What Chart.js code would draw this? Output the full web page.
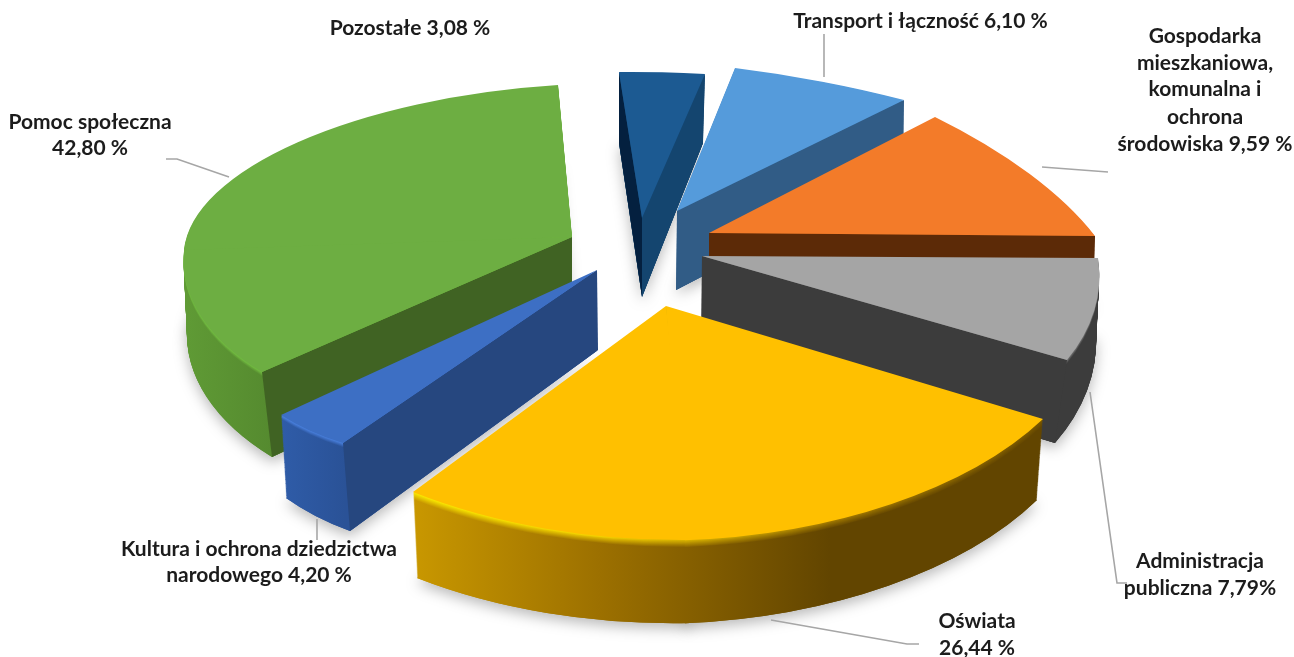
<!DOCTYPE html>
<html lang="pl">
<head>
<meta charset="utf-8">
<title>Struktura wydatków</title>
<style>html,body{margin:0;padding:0;background:#fff}canvas{display:block}</style>
<script src="https://cdn.jsdelivr.net/npm/chart.js@4/dist/chart.umd.min.js"></script>
</head>
<body>
<canvas id="c" width="1294" height="657"></canvas>
<script>
// ---- data ----
const categories = ['Transport i łączność','Gospodarka mieszkaniowa, komunalna i ochrona środowiska','Administracja publiczna','Oświata','Kultura i ochrona dziedzictwa narodowego','Pomoc społeczna','Pozostałe'];
const shares = [6.10, 9.59, 7.79, 26.44, 4.20, 42.80, 3.08];

// ---- styles ----
const topColors  = ['#559bdb','#f37b29','#a5a5a5','#ffc000','#3d6fc4','#6dae42','#1c5a92'];
// paint order, back to front (indices into categories)
const paintOrder = [6,0,1,2,5,4,3];
// camera view of every exploded slice: where its tip and two rim corners land, on top and bottom face.
// wide slices get a bend point to follow the perspective of the rim.
const sliceViews = [
  {top:[[677,211],[735,68],[904,100]],  bottom:[[676,290],[735,140],[903,172]]},
  {top:[[709,233],[935,117],[1095,236]],bottom:[[709,300],[935,190],[1093,305]]},
  {top:[[702,256],[1098,258],[1067,360]],bottom:[[701,336],[1096,335],[1055,443]]},
  {top:[[666,306],[1043,419],[413,492]],bottom:[[666,390],[1037,500],[417,578]], bend:{frac:0.596,top:[690,540],bottom:[690,623]}},
  {top:[[597,270],[343,443],[281,415]], bottom:[[598,350],[350,531],[286,498]]},
  {top:[[572,237],[262,372],[558,85]],  bottom:[[572,317],[272,457],[558,165]], sweep:0.8156, bend:{frac:0.318,top:[184,250],bottom:[187,330]}},
  {top:[[642,218],[619,72],[705,74]],   bottom:[[642,297],[619,143],[703,143]]}
];
// side wall colouring: [screen x, wall colour, bevel colour]
const rimStops = [
  [[677,'#315c86','#315c86'],[904,'#315c86','#315c86']],
  [[709,'#5c2a07','#a85418'],[1095,'#5c2a07','#a85418']],
  [[702,'#3c3c3c','#7c7c7c'],[1100,'#3c3c3c','#7c7c7c']],
  [[416,'#c89700','#fff000'],[600,'#9c7000','#ffdc00'],[830,'#624500','#a87e00'],[1040,'#624500','#7a5800']],
  [[281,'#2f5ca8','#4d85e6'],[345,'#2a5297','#4d85e6']],
  [[187,'#5f9a35','#76c443'],[272,'#558a2f','#76c443']],
  [[619,'#14456f','#14456f'],[705,'#14456f','#14456f']]
];
const bevelPx = [0,2,5,8,5,5,0];
// flat cut faces: which radial edge (1 = start, 2 = end) and colour
const cutFaces = [
  [[2,'#315c86']],
  [[2,'#5c2a07']],
  [[2,'#3c3c3c']],
  [],
  [[1,'#26477f']],
  [[1,'#406323']],
  [[1,'#04203f'],[2,'#14456f']]
];
const labelFont = 'bold 21px Lato';
const labelColor = '#1c1c1c';
const labelBlocks = [
  {lines:['Transport i łączność 6,10 %'], x:920.5, y:[21]},
  {lines:['Gospodarka','mieszkaniowa,','komunalna i','ochrona','środowiska 9,59 %'], x:1205, y:[36,63,89,117,144]},
  {lines:['Administracja','publiczna 7,79%'], x:1200, y:[561,588]},
  {lines:['Oświata','26,44 %'], x:977, y:[621,648]},
  {lines:['Kultura i ochrona dziedzictwa','narodowego 4,20 %'], x:259, y:[549,575]},
  {lines:['Pomoc społeczna','42,80 %'], x:90, y:[122,148]},
  {lines:['Pozostałe 3,08 %'], x:410, y:[28]}
];
const leaderLines = [
  [[824,77],[824,34]],
  [[1042,167],[1108,172]],
  [[1090,392],[1117,583],[1127,583]],
  [[771,620],[907,644],[919,644]],
  [[317,519],[317,540]],
  [[229,177],[177,159],[166,159]]
];

// ---- helpers ----
const hex = h => [1,3,5].map(i => parseInt(h.substr(i,2),16));
const mix = (a,b,f) => { const A=hex(a),B=hex(b); return `rgb(${A.map((v,i)=>Math.round(v+(B[i]-v)*f)).join(',')})`; };
const lerpPt = (p,q,t) => [p[0]+(q[0]-p[0])*t, p[1]+(q[1]-p[1])*t];
const plainOpts = c => ({backgroundColor:c,borderColor:'transparent',borderWidth:0,offset:0,spacing:0,circular:true,borderAlign:'center',borderRadius:0});

function viewMatrix(arc, apex, p1, p2, a1, a2){
  const R = arc.outerRadius;
  const u1=[R*Math.cos(a1),R*Math.sin(a1)], u2=[R*Math.cos(a2),R*Math.sin(a2)];
  const v1=[p1[0]-apex[0],p1[1]-apex[1]], v2=[p2[0]-apex[0],p2[1]-apex[1]];
  const det=u1[0]*u2[1]-u2[0]*u1[1];
  const i=[u2[1]/det,-u2[0]/det,-u1[1]/det,u1[0]/det];
  const a=v1[0]*i[0]+v2[0]*i[2], c=v1[0]*i[1]+v2[0]*i[3];
  const b=v1[1]*i[0]+v2[1]*i[2], d=v1[1]*i[1]+v2[1]*i[3];
  return [a,b,c,d,apex[0]-a*arc.x-c*arc.y,apex[1]-b*arc.x-d*arc.y];
}
// horizontal screen gradient expressed in the slice's local coordinates
function rimFill(stops,f){
  return (ctx,m)=>{
    const x0=stops[0][0],x1=stops[stops.length-1][0];
    const n=m[0]*m[0]+m[2]*m[2], dx=m[0]/n, dy=m[2]/n;
    const g=ctx.createLinearGradient(dx*(x0-m[4]),dy*(x0-m[4]),dx*(x1-m[4]),dy*(x1-m[4]));
    stops.forEach(s=>g.addColorStop((s[0]-x0)/(x1-x0),mix(s[2],s[1],f)));
    return g;
  };
}
// paints a slice at depth t (0 top .. 1 bottom) with the chart's own arc element
function paintSlice(ctx,arc,v,startA,endA,t,fill){
  const keep={o:arc.options,s:arc.startAngle,e:arc.endAngle};
  const pt=k=>lerpPt(v.top[k],v.bottom[k],t);
  const parts=[];
  if(v.bend){
    const midA=startA+(endA-startA)*v.bend.frac, pm=lerpPt(v.bend.top,v.bend.bottom,t);
    parts.push([pt(1),pm,startA,midA,startA,midA+0.012]);
    parts.push([pm,pt(2),midA,endA,midA,endA]);
  }else{
    parts.push([pt(1),pt(2),startA,endA,startA,endA]);
  }
  parts.forEach(([p1,p2,a1,a2,d1,d2])=>{
    const m=viewMatrix(arc,pt(0),p1,p2,a1,a2);
    ctx.save();
    ctx.transform(m[0],m[1],m[2],m[3],m[4],m[5]);
    arc.options=plainOpts(fill(ctx,m));
    arc.startAngle=d1;arc.endAngle=d2;
    arc.draw(ctx);
    ctx.restore();
  });
  arc.options=keep.o;arc.startAngle=keep.s;arc.endAngle=keep.e;
}

const view3d = {
  id:'view3d',
  beforeDatasetsDraw(chart){
    const ctx=chart.ctx, arcs=chart.getDatasetMeta(0).data;
    paintOrder.forEach(i=>{
      const arc=arcs[i], v=sliceViews[i];
      const startA=arc.startAngle;
      const endA=startA+(arc.endAngle-startA)*(v.sweep||1);
      const layers=Math.ceil(Math.max(...v.top.map((p,k)=>v.bottom[k][1]-p[1])));
      // soft contact shadow below the slice
      ctx.save();
      ctx.shadowColor='rgba(0,0,0,0.28)';ctx.shadowBlur=14;ctx.shadowOffsetX=0;ctx.shadowOffsetY=5;
      paintSlice(ctx,arc,v,startA,endA,1,rimFill(rimStops[i],1));
      ctx.restore();
      for(let n=layers;n>=1;n--){
        const f=bevelPx[i]?Math.min(1,n/bevelPx[i]):1;
        paintSlice(ctx,arc,v,startA,endA,n/layers,rimFill(rimStops[i],f));
      }
      cutFaces[i].forEach(([e,col])=>{
        ctx.fillStyle=col;ctx.beginPath();
        ctx.moveTo(...v.top[e]);ctx.lineTo(...v.top[0]);ctx.lineTo(...v.bottom[0]);ctx.lineTo(...v.bottom[e]);
        ctx.closePath();ctx.fill();
      });
      paintSlice(ctx,arc,v,startA,endA,0,()=>topColors[i]);
    });
    return false;
  },
  afterDraw(chart){
    const ctx=chart.ctx;
    ctx.save();
    ctx.strokeStyle='#a6a6a6';ctx.lineWidth=1.6;
    leaderLines.forEach(l=>{ctx.beginPath();l.forEach((p,k)=>k?ctx.lineTo(...p):ctx.moveTo(...p));ctx.stroke();});
    ctx.font=labelFont;ctx.fillStyle=labelColor;ctx.textAlign='center';ctx.textBaseline='middle';
    labelBlocks.forEach(b=>b.lines.forEach((t,k)=>ctx.fillText(t,b.x,b.y[k])));
    ctx.restore();
  }
};

new Chart(document.getElementById('c'),{
  type:'pie',
  data:{labels:categories,datasets:[{data:shares,backgroundColor:topColors,borderWidth:0}]},
  options:{responsive:false,animation:false,rotation:8,
    plugins:{legend:{display:false},tooltip:{enabled:false}}},
  plugins:[view3d]
});
</script>
</body>
</html>
